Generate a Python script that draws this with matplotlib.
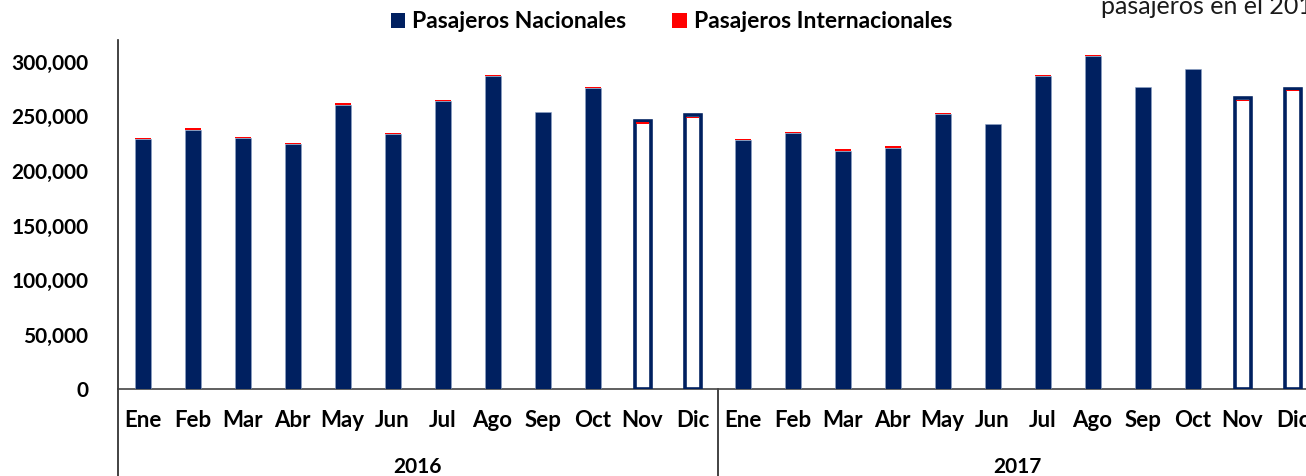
import matplotlib
matplotlib.use("Agg")
import matplotlib.pyplot as plt
import matplotlib.transforms as mtransforms
from matplotlib.patches import Patch
from matplotlib.lines import Line2D
import numpy as np

plt.rcParams['font.family'] = ['Lato', 'DejaVu Sans']

# Data
months = ['Ene', 'Feb', 'Mar', 'Abr', 'May', 'Jun', 'Jul', 'Ago', 'Sep', 'Oct', 'Nov', 'Dic']
years = ['2016', '2017']
nacionales_2016 = [229600, 237800, 230500, 225000, 260900, 234000, 263800, 287000, 253900, 276000, 246000, 250900]
nacionales_2017 = [228100, 235200, 218700, 221400, 252000, 242900, 287100, 305600, 276600, 293700, 266800, 275400]
internacionales_2016 = [900, 1200, 700, 1100, 1000, 600, 1100, 700, 200, 700, 1200, 1000]
internacionales_2017 = [900, 800, 1000, 1100, 800, 200, 1000, 700, 200, 200, 1200, 1200]
# Nov and Dic are drawn hollow (estimated months)
hollow = [False] * 10 + [True, True]
yticks = [0, 50000, 100000, 150000, 200000, 250000, 300000]

navy = '#002060'
red = '#FF0000'

nac = nacionales_2016 + nacionales_2017
intl = internacionales_2016 + internacionales_2017
is_hollow = hollow + hollow
labels = months + months
x = np.arange(len(nac))

fig = plt.figure(figsize=(13.06, 4.76), dpi=100)
ax = fig.add_axes([117.5 / 1306, 1 - 389 / 476, 1200 / 1306, 349.5 / 476])

w = 0.32
for xi, n, r, h in zip(x, nac, intl, is_hollow):
    if h:
        ax.bar(xi, n, width=w, facecolor='white', edgecolor=navy, linewidth=2.6, zorder=3)
        ax.bar(xi, r, bottom=n - 2500, width=w * 0.8, color=red, linewidth=0, zorder=4)
    else:
        ax.bar(xi, n, width=w, color=navy, edgecolor='#8fa3c8', linewidth=0.4, zorder=3)
        ax.bar(xi, r, bottom=n, width=w, color=red, linewidth=0, zorder=4)

ax.set_xlim(-0.5, len(nac) - 0.5)
ax.set_ylim(0, 320600)
ax.set_yticks(yticks)
ax.set_yticklabels([f'{v:,}' for v in yticks], fontsize=15, fontweight='bold')
ax.set_xticks([])
ax.tick_params(axis='y', length=0, pad=21)

for s in ['top', 'right']:
    ax.spines[s].set_visible(False)
ax.spines['left'].set_linewidth(1.2)
ax.spines['bottom'].set_linewidth(1.2)
ax.spines['left'].set_color('#222222')
ax.spines['bottom'].set_color('#444444')

# two-level category axis
trans = mtransforms.blended_transform_factory(ax.transData, ax.transAxes)
for xi, lab in zip(x, labels):
    ax.text(xi, -0.089, lab, transform=trans, ha='center', va='center',
            fontsize=16, fontweight='bold')
for i, yr in enumerate(years):
    ax.text(i * 12 + 5.5, -0.222, yr, transform=trans, ha='center', va='center',
            fontsize=15, fontweight='bold')
for xs in [-0.5, 11.5, 23.5]:
    ax.add_line(Line2D([xs, xs], [0, -0.26], transform=trans, color='#222222',
                       linewidth=1.2, clip_on=False))

handles = [Patch(facecolor=navy, label='Pasajeros Nacionales'),
           Patch(facecolor=red, label='Pasajeros Internacionales')]
fig.legend(handles=handles, loc='center', bbox_to_anchor=(671.5 / 1306, 1 - 22 / 476),
           ncol=2, frameon=False, prop={'size': 16.5, 'weight': 'bold'},
           handlelength=0.65, handleheight=0.65, handletextpad=0.3, columnspacing=2.0)

fig.text(1101 / 1306, 1 - 14 / 476, 'pasajeros en el 2017', fontsize=18,
         color='#1a1a1a', ha='left', va='baseline')

fig.savefig('out.png', dpi=100)
